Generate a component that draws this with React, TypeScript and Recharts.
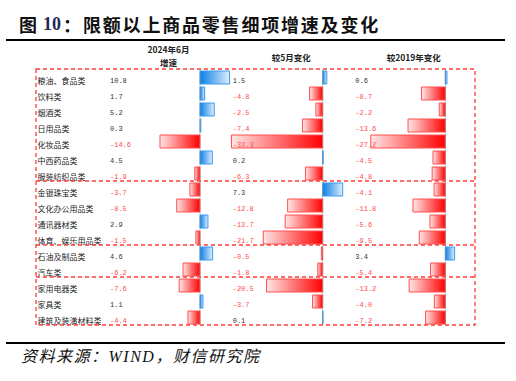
import { BarChart, Bar, XAxis, YAxis, Cell, LabelList, ReferenceLine } from 'recharts';

// 商品类别（按分组顺序）
const categories = [
  '粮油、食品类',
  '饮料类',
  '烟酒类',
  '日用品类',
  '化妆品类',
  '中西药品类',
  '服装纺织品类',
  '金银珠宝类',
  '文化办公用品类',
  '通讯器材类',
  '体育、娱乐用品类',
  '石油及制品类',
  '汽车类',
  '家用电器类',
  '家具类',
  '建筑及装潢材料类',
];

const growthJun2024 = [10.8, 1.7, 5.2, 0.3, -14.6, 4.5, -1.9, -3.7, -8.5, 2.9, -1.5, 4.6, -6.2, -7.6, 1.1, -4.4];
const changeVsMay = [1.5, -4.8, -2.5, -7.4, -33.3, 0.2, -6.3, 7.3, -12.8, -13.7, -21.7, -0.5, -1.8, -20.5, -3.7, 0.1];
const changeVs2019 = [0.6, -8.7, -2.2, -13.6, -27.2, -4.5, -4.8, -4.1, -11.8, -5.6, -9.5, 3.4, -5.4, -13.2, -4.0, -7.2];

// 每组行数
const groupSizes = [7, 4, 2, 3];

const headers = [['2024年6月', '增速'], ['较5月变化'], ['较2019年变化']];

const TITLE = '限额以上商品零售细项增速及变化';

const data = categories.map((name, i) => ({
  name,
  a: growthJun2024[i],
  b: changeVsMay[i],
  c: changeVs2019[i],
}));

// 布局
const W = 516;
const H = 381;
const PLOT_LEFT = 36;
const PLOT_RIGHT = 475;
const PLOT_TOP = 69;
const PLOT_BOTTOM = 325;
const PX_PER_UNIT = 2.74;
const ROW_H = (PLOT_BOTTOM - PLOT_TOP) / categories.length;

const COLS = [
  { key: 'a', zero: 200 },
  { key: 'b', zero: 322.7 },
  { key: 'c', zero: 445.3 },
].map((c) => ({
  ...c,
  domain: [-(c.zero - PLOT_LEFT) / PX_PER_UNIT, (PLOT_RIGHT - c.zero) / PX_PER_UNIT],
}));

const RED_TEXT = '#FF4B4B';
const DASH_RED = '#FF3B3B';

const renderCategory = (props: any) => {
  const { y, payload } = props;
  return (
    <text
      x={PLOT_LEFT + 1.5}
      y={y + 3}
      fill="#222"
      fontSize={8}
      fontFamily="'Noto Sans CJK SC', sans-serif"
      dominantBaseline="central"
      textAnchor="start"
    >
      {payload.value}
    </text>
  );
};

const makeValueLabel = (textX: number) => (props: any) => {
  const { y, height, value } = props;
  const v = Number(value);
  return (
    <text
      x={textX}
      y={Number(y) + Number(height) / 2 + 3}
      fill={v < 0 ? RED_TEXT : '#333'}
      fontSize={7}
      fontFamily="'Liberation Mono', monospace"
      dominantBaseline="central"
      textAnchor="start"
    >
      {v.toFixed(1)}
    </text>
  );
};

export default function App() {
  let acc = 0;
  const dividers = groupSizes.slice(0, -1).map((n) => {
    acc += n;
    return PLOT_TOP + acc * ROW_H;
  });

  return (
    <div style={{ position: 'absolute', left: 0, top: 0, width: W, height: H, background: '#fff' }}>
      <BarChart
        width={W}
        height={H}
        data={data}
        layout="vertical"
        margin={{ top: PLOT_TOP, right: W - PLOT_RIGHT, bottom: H - PLOT_BOTTOM, left: PLOT_LEFT }}
      >
        <defs>
          <linearGradient id="gradBlue" x1="0" y1="0" x2="1" y2="0">
            <stop offset="0%" stopColor="#0A7FE6" />
            <stop offset="100%" stopColor="#DDEEFC" />
          </linearGradient>
          <linearGradient id="gradRed" x1="0" y1="0" x2="1" y2="0">
            <stop offset="0%" stopColor="#FFE6E6" />
            <stop offset="100%" stopColor="#FF0000" />
          </linearGradient>
        </defs>
        {COLS.map((col) => (
          <XAxis
            key={`x-${col.key}`}
            xAxisId={col.key}
            type="number"
            domain={col.domain}
            allowDataOverflow
            hide
          />
        ))}
        <YAxis
          yAxisId="a"
          type="category"
          dataKey="name"
          mirror
          axisLine={false}
          tickLine={false}
          interval={0}
          tick={renderCategory}
        />
        <YAxis yAxisId="b" type="category" dataKey="name" hide />
        <YAxis yAxisId="c" type="category" dataKey="name" hide />
        {COLS.map((col) => (
          <ReferenceLine
            key={`ref-${col.key}`}
            x={0}
            xAxisId={col.key}
            yAxisId={col.key}
            stroke="#888"
            strokeDasharray="1 1"
          />
        ))}
        {COLS.map((col) => (
          <Bar
            key={`bar-${col.key}`}
            dataKey={col.key}
            xAxisId={col.key}
            yAxisId={col.key}
            barSize={13}
            isAnimationActive={false}
          >
            {data.map((d: any, i) => {
              const neg = d[col.key] < 0;
              return (
                <Cell
                  key={`cell-${col.key}-${i}`}
                  fill={neg ? 'url(#gradRed)' : 'url(#gradBlue)'}
                  stroke={neg ? '#FF5050' : '#3B9CF2'}
                  strokeWidth={1}
                />
              );
            })}
            <LabelList dataKey={col.key} content={makeValueLabel(col.zero - 90)} />
          </Bar>
        ))}
      </BarChart>

      <svg
        width={W}
        height={H}
        style={{ position: 'absolute', left: 0, top: 0, pointerEvents: 'none' }}
      >
        {/* 标题 */}
        <text y={24} dominantBaseline="central" fontFamily="'Noto Sans CJK SC', sans-serif" fontWeight={700} fontSize={18} fill="#111">
          <tspan x={19}>图</tspan>
          <tspan x={43} fontFamily="'Liberation Serif', serif" fill="#1F2A55">10</tspan>
          <tspan x={63}>：</tspan>
          {Array.from(TITLE).map((ch, i) => (
            <tspan key={i} x={83 + i * 19.8}>
              {ch}
            </tspan>
          ))}
        </text>
        <line x1={6} x2={505} y1={40} y2={40} stroke="#000" strokeWidth={2} />

        {/* 列标题 */}
        {COLS.map((col, i) => {
          const lines = headers[i];
          const cx = col.zero - 31.5;
          return (
            <text
              key={`h-${col.key}`}
              textAnchor="middle"
              dominantBaseline="central"
              fontFamily="'Noto Sans CJK SC', sans-serif"
              fontWeight={700}
              fontSize={8.5}
              fill="#222"
            >
              {lines.map((t, j) => (
                <tspan key={j} x={cx} y={lines.length === 1 ? 57 : 49 + j * 12.5}>
                  {t}
                </tspan>
              ))}
            </text>
          );
        })}

        {/* 分组虚线框 */}
        <rect
          x={PLOT_LEFT}
          y={PLOT_TOP}
          width={PLOT_RIGHT - PLOT_LEFT}
          height={PLOT_BOTTOM - PLOT_TOP}
          fill="none"
          stroke={DASH_RED}
          strokeWidth={1.3}
          strokeDasharray="4 3"
        />
        {dividers.map((y, i) => (
          <line
            key={`d-${i}`}
            x1={PLOT_LEFT}
            x2={PLOT_RIGHT}
            y1={y}
            y2={y}
            stroke={DASH_RED}
            strokeWidth={1.3}
            strokeDasharray="4 3"
          />
        ))}

        {/* 来源 */}
        <line x1={6} x2={505} y1={343} y2={343} stroke="#000" strokeWidth={2} />
        <text
          x={21}
          y={356}
          dominantBaseline="central"
          fontFamily="'Liberation Serif', 'Noto Sans CJK SC', serif"
          fontStyle="italic"
          fontSize={16}
          letterSpacing={1.5}
          fill="#111"
        >
          资料来源：WIND，财信研究院
        </text>
      </svg>
    </div>
  );
}
